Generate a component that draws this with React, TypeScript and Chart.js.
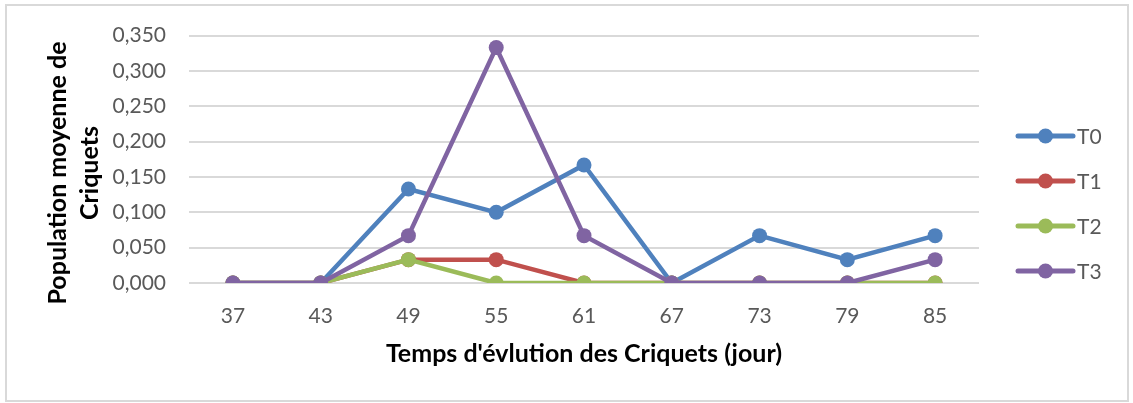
import React, { useEffect, useRef } from "react";
import { Chart, registerables } from "chart.js";

Chart.register(...registerables);

const categories = ["37", "43", "49", "55", "61", "67", "73", "79", "85"];
const seriesT0 = [0, 0, 0.133, 0.1, 0.167, 0, 0.067, 0.033, 0.067];
const seriesT1 = [0, 0, 0.033, 0.033, 0, 0, 0, 0, 0];
const seriesT2 = [0, 0, 0.033, 0, 0, 0, 0, 0, 0];
const seriesT3 = [0, 0, 0.067, 0.333, 0.067, 0, 0, 0, 0.033];
const seriesNames = ["T0", "T1", "T2", "T3"];
const seriesColors = ["#4F81BD", "#C0504D", "#9BBB59", "#8064A2"];
const yTitleLines = ["Population moyenne de", "Criquets"];
const xTitle = "Temps d'évlution des Criquets (jour)";

const FONT = "Lato, 'Open Sans', sans-serif";
const TEXT_GREY = "#595959";

const yTitlePlugin = {
  id: "yTitle",
  afterDraw(chart: any) {
    const ctx = chart.ctx;
    ctx.save();
    ctx.translate(74, 173);
    ctx.rotate(-Math.PI / 2);
    ctx.font = `bold 25px ${FONT}`;
    ctx.fillStyle = "#000000";
    ctx.textAlign = "center";
    ctx.textBaseline = "middle";
    const gap = 32;
    yTitleLines.forEach((line, i) => {
      ctx.fillText(line, 0, (i - (yTitleLines.length - 1) / 2) * gap);
    });
    ctx.restore();
  },
};

const legendPlugin = {
  id: "sideLegend",
  afterDraw(chart: any) {
    const ctx = chart.ctx;
    const datasets = chart.data.datasets;
    ctx.save();
    datasets.forEach((ds: any, i: number) => {
      const y = 136 + i * 45;
      const x0 = 1018;
      const x1 = 1073;
      ctx.strokeStyle = ds.borderColor;
      ctx.lineWidth = 5;
      ctx.lineCap = "round";
      ctx.beginPath();
      ctx.moveTo(x0, y);
      ctx.lineTo(x1, y);
      ctx.stroke();
      ctx.fillStyle = ds.borderColor;
      ctx.beginPath();
      ctx.arc((x0 + x1) / 2, y, 7.5, 0, Math.PI * 2);
      ctx.fill();
      ctx.fillStyle = TEXT_GREY;
      ctx.font = `21px ${FONT}`;
      ctx.textAlign = "left";
      ctx.textBaseline = "middle";
      ctx.fillText(ds.label, 1077, y + 1);
    });
    ctx.restore();
  },
};

export default function App() {
  const canvasRef = useRef<HTMLCanvasElement | null>(null);

  useEffect(() => {
    document.body.style.margin = "0";
    const canvas = canvasRef.current;
    if (!canvas) return;
    const allSeries = [seriesT0, seriesT1, seriesT2, seriesT3];
    const chart = new Chart(canvas, {
      type: "line",
      data: {
        labels: categories,
        datasets: allSeries.map((data, i) => ({
          label: seriesNames[i],
          data,
          borderColor: seriesColors[i],
          backgroundColor: seriesColors[i],
          pointBackgroundColor: seriesColors[i],
          pointBorderColor: seriesColors[i],
          borderWidth: 4.5,
          pointRadius: 7.5,
          pointBorderWidth: 0,
          pointHoverRadius: 7.5,
          tension: 0,
          fill: false,
          order: allSeries.length - 1 - i,
        })),
      },
      options: {
        responsive: false,
        animation: false,
        layout: { padding: { left: 0, right: 154, top: 33, bottom: 34 } },
        plugins: {
          legend: { display: false },
          tooltip: { enabled: false },
        },
        scales: {
          x: {
            offset: true,
            grid: { display: false, drawTicks: false },
            border: { display: false },
            ticks: {
              color: TEXT_GREY,
              font: { family: FONT, size: 21 },
              padding: 20.4,
              maxRotation: 0,
            },
            title: {
              display: true,
              text: xTitle,
              color: "#000000",
              font: { family: FONT, size: 25, weight: "bold" },
              padding: { top: 0, bottom: 0 },
            },
            afterFit(scale: any) {
              scale.height = 86;
            },
          },
          y: {
            min: 0,
            max: 0.35,
            grid: { color: "#d9d9d9", lineWidth: 2, drawTicks: false },
            border: { display: false },
            ticks: {
              stepSize: 0.05,
              color: TEXT_GREY,
              font: { family: FONT, size: 21 },
              padding: 23,
              callback: (v: any) => Number(v).toFixed(3).replace(".", ","),
            },
            afterFit(scale: any) {
              scale.width = 189;
            },
          },
        },
      },
      plugins: [yTitlePlugin, legendPlugin],
    });
    return () => chart.destroy();
  }, []);

  return (
    <div style={{ position: "relative", width: 1133, height: 403, background: "#ffffff" }}>
      <div
        style={{
          position: "absolute",
          left: 5,
          top: 4,
          width: 1124,
          height: 398,
          border: "2px solid #d9d9d9",
          boxSizing: "border-box",
        }}
      />
      <canvas
        ref={canvasRef}
        width={1133}
        height={403}
        style={{ position: "absolute", left: 0, top: 0, width: 1133, height: 403 }}
      />
    </div>
  );
}
